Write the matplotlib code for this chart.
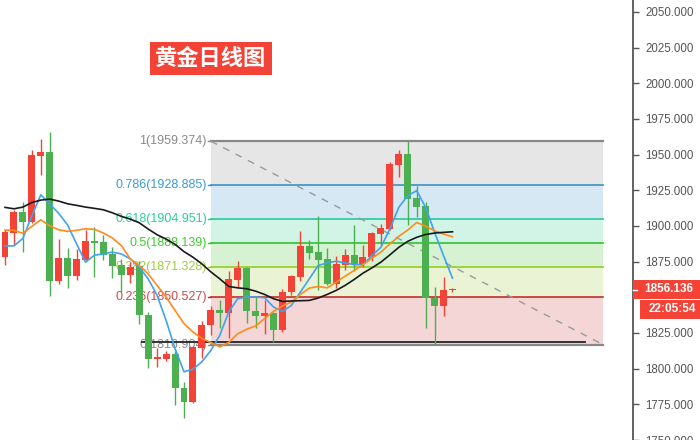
import numpy as np
import matplotlib
matplotlib.use("Agg")
import matplotlib.pyplot as plt
from matplotlib.patches import Rectangle
from matplotlib.lines import Line2D

plt.rcParams['font.family'] = ['Liberation Sans', 'Noto Sans CJK SC', 'DejaVu Sans']

# ---------------- data ----------------
opens = [1878.5, 1895.2, 1909.7, 1902.9, 1949.0, 1951.5, 1861.7, 1877.6, 1865.2, 1876.4,
         1889.4, 1888.7, 1880.6, 1872.9, 1865.9, 1872.2, 1837.8, 1807.1, 1807.1, 1810.6,
         1786.7, 1776.4, 1814.6, 1830.3, 1841.3, 1839.0, 1862.4, 1870.6, 1840.6, 1836.6,
         1839.2, 1826.9, 1853.4, 1864.5, 1886.0, 1881.8, 1876.9, 1859.4, 1872.9, 1879.7,
         1873.4, 1878.1, 1894.5, 1897.8, 1942.7, 1950.2, 1919.4, 1913.7, 1849.7, 1843.6,
         1855.0]
highs = [1897.1, 1911.3, 1916.7, 1952.9, 1960.6, 1965.5, 1890.8, 1884.6, 1883.9, 1897.3,
         1899.2, 1893.6, 1885.3, 1876.9, 1874.6, 1875.7, 1839.7, 1814.6, 1812.7, 1812.7,
         1790.4, 1815.9, 1833.1, 1844.1, 1848.3, 1868.5, 1875.5, 1871.0, 1850.4, 1848.3,
         1839.6, 1856.0, 1865.9, 1896.4, 1890.1, 1906.9, 1884.6, 1879.2, 1883.9, 1900.6,
         1886.7, 1895.4, 1901.1, 1944.8, 1952.9, 1959.374, 1927.8, 1917.1, 1857.1, 1864.1,
         1856.5]
lows = [1872.9, 1886.7, 1882.0, 1902.0, 1935.7, 1850.6, 1859.6, 1856.2, 1862.4, 1876.0,
        1864.5, 1876.4, 1863.8, 1853.9, 1860.1, 1831.0, 1800.6, 1801.3, 1805.5, 1774.5,
        1765.2, 1776.0, 1807.6, 1823.4, 1828.7, 1821.8, 1857.1, 1832.0, 1828.7, 1824.1,
        1818.8, 1825.5, 1851.3, 1861.7, 1876.9, 1854.8, 1858.3, 1856.6, 1869.2, 1868.7,
        1871.1, 1875.7, 1886.2, 1897.0, 1934.3, 1900.8, 1906.0, 1828.5, 1816.904, 1836.6,
        1853.4]
closes = [1895.9, 1909.7, 1902.9, 1949.5, 1951.5, 1861.7, 1877.6, 1865.2, 1876.9, 1889.4,
          1888.3, 1879.9, 1872.2, 1865.9, 1871.1, 1837.3, 1807.1, 1808.0, 1810.6, 1786.2,
          1776.4, 1815.5, 1830.8, 1841.3, 1839.0, 1862.9, 1870.6, 1840.1, 1836.6, 1839.2,
          1826.9, 1853.9, 1865.0, 1886.0, 1881.3, 1876.4, 1859.4, 1873.4, 1879.7, 1873.4,
          1878.3, 1895.0, 1898.5, 1943.2, 1950.2, 1919.0, 1913.4, 1849.2, 1843.6, 1855.0,
          1856.136]

ma_blue = [1886.0, 1886.0, 1891.3, 1907.1, 1921.8, 1915.3, 1908.8, 1900.6, 1887.4, 1874.6,
           1879.5, 1880.4, 1881.6, 1880.4, 1876.9, 1871.1, 1862.9, 1851.3, 1833.8, 1814.1,
           1797.8, 1799.6, 1804.8, 1812.7, 1823.4, 1839.7, 1849.0, 1850.2, 1850.2, 1849.7,
           1843.2, 1840.1, 1844.3, 1853.6, 1862.9, 1872.3, 1874.1, 1875.3, 1874.1, 1872.9,
           1872.9, 1879.2, 1885.0, 1897.8, 1913.0, 1921.2, 1924.7, 1913.0, 1895.5, 1879.2,
           1863.4]
ma_orange = [1897.1, 1896.9, 1894.8, 1899.7, 1904.3, 1900.1, 1897.3, 1896.2, 1896.9, 1898.0,
             1897.6, 1895.0, 1891.5, 1886.2, 1876.9, 1872.2, 1866.4, 1858.3, 1850.2, 1840.8,
             1831.5, 1825.7, 1821.1, 1818.3, 1815.3, 1818.3, 1824.5, 1827.6, 1829.9, 1835.0,
             1840.1, 1843.9, 1846.7, 1852.0, 1856.4, 1857.6, 1856.6, 1860.6, 1864.8, 1868.7,
             1872.9, 1877.4, 1881.6, 1887.4, 1892.7, 1897.1, 1902.4, 1899.8, 1896.6, 1894.3,
             1892.4]
ma_black = [1913.0, 1912.0, 1913.2, 1916.4, 1918.1, 1918.8, 1917.4, 1915.5, 1914.4, 1913.2,
            1912.3, 1911.3, 1909.2, 1906.7, 1904.8, 1902.2, 1897.8, 1893.8, 1890.8, 1887.1,
            1882.0, 1878.1, 1873.4, 1867.8, 1862.9, 1857.6, 1856.6, 1856.0, 1854.3, 1852.0,
            1849.0, 1847.1, 1847.4, 1847.6, 1847.8, 1849.5, 1852.0, 1854.8, 1858.3, 1862.4,
            1866.9, 1870.6, 1874.6, 1879.7, 1885.0, 1889.2, 1892.0, 1894.0, 1895.0, 1895.5,
            1895.9]

fib_ratios = ["1", "0.786", "0.618", "0.5", "0.382", "0.236", "0"]
fib_levels = [1959.374, 1928.885, 1904.951, 1888.139, 1871.328, 1850.527, 1816.904]
fib_x = [23, 66.8]          # anchor candles of the fibonacci tool
support_level = 1818.8
support_x = [15.3, 64.8]

yticks = [1750, 1775, 1800, 1825, 1850, 1875, 1900, 1925, 1950, 1975, 2000, 2025, 2050]
title = "黄金日线图"
last_price = "1856.136"
countdown = "22:05:54"

# ---------------- styles ----------------
UP = '#f44336'
DOWN = '#4caf50'
fib_line_colors = ['#888888', '#3f8fc5', '#25c99c', '#2cc52c', '#93cf1f', '#c0302b', '#888888']
fib_text_colors = ['#8a8a8a', '#3a9ad9', '#2ccf9a', '#3ccf2c', '#9ccf3c', '#d24848', '#8a8a8a']
fib_fill_colors = ['#e6e6e6', '#d5e8f4', '#d2f4e7', '#d6f2d3', '#eaf4d5', '#f4d6d6']

W, H = 700, 440
fig = plt.figure(figsize=(7.0, 4.4), dpi=100)
ax = fig.add_axes([0, 0, 633 / W, 1])
ax.set_xlim(-0.559, 70.17)
ax.set_ylim(1751.3, 2058.3)

# fibonacci zones
for k in range(len(fib_levels) - 1):
    ax.fill_between(fib_x, fib_levels[k + 1], fib_levels[k], color=fib_fill_colors[k],
                    lw=0, zorder=0.5)
for k, (r, lv) in enumerate(zip(fib_ratios, fib_levels)):
    ax.plot(fib_x, [lv, lv], color=fib_line_colors[k],
            lw=1.2 if r not in ("0", "1") else 1.6, zorder=1)
    ax.text(fib_x[0] - 0.45, lv, f"{r}({lv:.3f})", ha='right', va='center', fontsize=9,
            color=fib_text_colors[k], zorder=1.5)
    ax.plot([fib_x[0] - 0.35, fib_x[0]], [lv, lv], color=fib_line_colors[k], lw=1, zorder=1.5)

# diagonal of the fib tool
ax.plot(fib_x, [fib_levels[0], fib_levels[-1]], color='#9a9a9a', lw=1, ls=(0, (5, 5)), zorder=2)
# support line
ax.plot(support_x, [support_level, support_level], color='#333333', lw=1.4, zorder=2)

# candles
x = np.arange(len(opens))
o = np.array(opens); c = np.array(closes); h = np.array(highs); l = np.array(lows)
cols = np.where(c >= o, UP, DOWN)
ax.vlines(x, l, h, colors=cols, lw=1.0, zorder=3)
bottoms = np.minimum(o, c)
heights = np.maximum(np.abs(c - o), 0.8)
ax.bar(x, heights, bottom=bottoms, width=0.78, color=cols, lw=0, zorder=3.5)

# moving averages
ax.plot(x, ma_blue, color='#3fa3f0', lw=1.2, zorder=4)
ax.plot(x, ma_orange, color='#ff8a1e', lw=1.2, zorder=4)
ax.plot(x, ma_black, color='#1a1a1a', lw=1.2, zorder=4)

# axes styling
for s in ['left', 'top', 'bottom']:
    ax.spines[s].set_visible(False)
ax.spines['right'].set_color('#555555')
ax.spines['right'].set_linewidth(1.3)
ax.set_xticks([])
ax.yaxis.tick_right()
ax.set_yticks(yticks)
# the 1850 label sits under the last-price box in the reference
ax.set_yticklabels(["" if v == 1850 else f"{v:.3f}" for v in yticks])
ax.tick_params(axis='y', length=4, width=1, color='#555555', labelcolor='#555555',
               labelsize=8.3, pad=5)
ax.set_facecolor('white')

# title box
fig.text(211 / W, 1 - 58.5 / H, title, ha='center', va='center', fontsize=16,
         fontweight='bold', color='white', family=['Noto Sans CJK SC', 'DejaVu Sans'],
         bbox=dict(boxstyle='square,pad=0.24', fc='#f44336', ec='none'))

# last price and countdown boxes
def fig_box(x0, y0, x1, y1, text):
    fig.patches.append(Rectangle((x0 / W, 1 - y1 / H), (x1 - x0) / W, (y1 - y0) / H,
                                 transform=fig.transFigure, fc='#f44336', ec='none', zorder=5))
    fig.text((x0 + x1) / 2 / W + 2 / W, 1 - (y0 + y1) / 2 / H, text, ha='center', va='center',
             fontsize=8.5, fontweight='bold', color='white', zorder=6)

fig_box(633, 280, 700, 299, last_price)
fig_box(640, 300, 700, 318.5, countdown)
fig.add_artist(Line2D([633 / W, 637 / W], [1 - 289.5 / H, 1 - 289.5 / H], color='white', lw=1,
                      transform=fig.transFigure, zorder=7))

fig.savefig('out.png', dpi=100, facecolor='white')
